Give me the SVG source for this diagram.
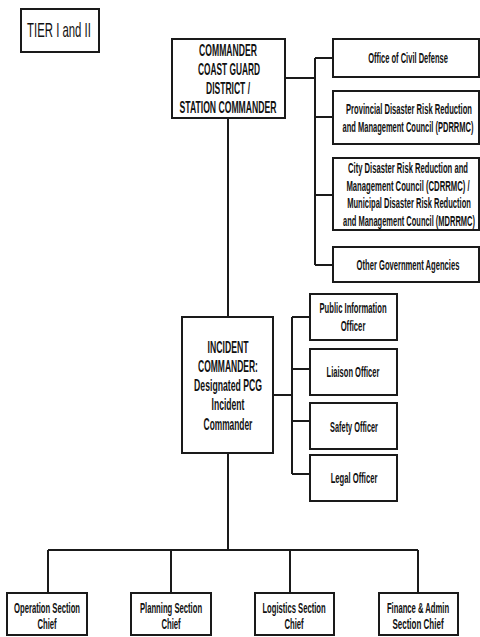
<svg xmlns="http://www.w3.org/2000/svg" width="480" height="637" viewBox="0 0 480 637">
<style>
.box{fill:#fff;stroke:#1a1a1a;stroke-width:2}
.ln{fill:none;stroke:#1a1a1a;stroke-width:2}
text{font-family:"Liberation Sans",Arial,sans-serif;fill:#111;text-anchor:middle}
.b{font-weight:bold;font-size:16.5px}
.s{font-weight:bold;font-size:14px}
.t{font-size:20px}
</style>
<rect width="480" height="637" fill="#fff"/>
<g id="connectors">
<path class="ln" d="M285 78H315M315 58V265M315 58H333M315 117H333M315 195H333M315 265H333"/>
<path class="ln" d="M228 118V317M228 453V550M48 550H418M48 550V593M171 550V593M290 550V593M418 550V593"/>
<path class="ln" d="M273 395H292M292 317V474M292 317H310M292 369H310M292 421H310M292 474H310"/>
</g>
<g id="tier">
<rect class="box" x="21" y="9" width="78" height="43"/>
<text class="t" transform="matrix(0.57 0 0 1 59 37)" textLength="112" lengthAdjust="spacingAndGlyphs">TIER I and II</text>
</g>
<g id="commander">
<rect class="box" x="172" y="39" width="113" height="79"/>
<text class="b" transform="matrix(0.53 0 0 1 228 56)" textLength="109" lengthAdjust="spacingAndGlyphs">COMMANDER</text>
<text class="b" transform="matrix(0.53 0 0 1 229 75)" textLength="117" lengthAdjust="spacingAndGlyphs">COAST GUARD</text>
<text class="b" transform="matrix(0.53 0 0 1 228 94)" textLength="83" lengthAdjust="spacingAndGlyphs">DISTRICT /</text>
<text class="b" transform="matrix(0.53 0 0 1 228 113)" textLength="183" lengthAdjust="spacingAndGlyphs">STATION COMMANDER</text>
</g>
<g id="ocd">
<rect class="box" x="333" y="39" width="146" height="38"/>
<text class="s" transform="matrix(0.55 0 0 1 408 63)" textLength="145" lengthAdjust="spacingAndGlyphs">Office of Civil Defense</text>
</g>
<g id="pdrrmc">
<rect class="box" x="333" y="91" width="146" height="53"/>
<text class="s" transform="matrix(0.55 0 0 1 409 114)" textLength="229" lengthAdjust="spacingAndGlyphs">Provincial Disaster  Risk  Reduction</text>
<text class="s" transform="matrix(0.55 0 0 1 408 132)" textLength="238" lengthAdjust="spacingAndGlyphs">and Management Council (PDRRMC)</text>
</g>
<g id="cdrrmc">
<rect class="box" x="333" y="158" width="146" height="72"/>
<text class="s" transform="matrix(0.55 0 0 1 408 173)" textLength="218" lengthAdjust="spacingAndGlyphs">City Disaster  Risk Reduction and</text>
<text class="s" transform="matrix(0.55 0 0 1 408 191)" textLength="224" lengthAdjust="spacingAndGlyphs">Management Council (CDRRMC)  /</text>
<text class="s" transform="matrix(0.55 0 0 1 409 208)" textLength="225" lengthAdjust="spacingAndGlyphs">Municipal Disaster  Risk  Reduction</text>
<text class="s" transform="matrix(0.55 0 0 1 409 226)" textLength="240" lengthAdjust="spacingAndGlyphs">and Management Council (MDRRMC)</text>
</g>
<g id="oga">
<rect class="box" x="333" y="247" width="146" height="35"/>
<text class="s" transform="matrix(0.55 0 0 1 408 270)" textLength="187" lengthAdjust="spacingAndGlyphs">Other Government Agencies</text>
</g>
<g id="incident">
<rect class="box" x="182" y="317" width="91" height="136"/>
<text class="b" transform="matrix(0.53 0 0 1 228 353)" textLength="77" lengthAdjust="spacingAndGlyphs">INCIDENT</text>
<text class="b" transform="matrix(0.53 0 0 1 228 372)" textLength="113" lengthAdjust="spacingAndGlyphs">COMMANDER:</text>
<text class="b" transform="matrix(0.53 0 0 1 228 391)" textLength="128" lengthAdjust="spacingAndGlyphs">Designated PCG</text>
<text class="b" transform="matrix(0.53 0 0 1 228 410)" textLength="62" lengthAdjust="spacingAndGlyphs">Incident</text>
<text class="b" transform="matrix(0.53 0 0 1 228 430)" textLength="92" lengthAdjust="spacingAndGlyphs">Commander</text>
</g>
<g id="pio">
<rect class="box" x="310" y="294" width="87" height="46"/>
<text class="s" transform="matrix(0.55 0 0 1 353 313)" textLength="122" lengthAdjust="spacingAndGlyphs">Public Information</text>
<text class="s" transform="matrix(0.55 0 0 1 353 331)" textLength="45" lengthAdjust="spacingAndGlyphs">Officer</text>
</g>
<g id="liaison">
<rect class="box" x="310" y="349" width="87" height="46"/>
<text class="s" transform="matrix(0.55 0 0 1 353 377)" textLength="96" lengthAdjust="spacingAndGlyphs">Liaison Officer</text>
</g>
<g id="safety">
<rect class="box" x="310" y="403" width="87" height="46"/>
<text class="s" transform="matrix(0.55 0 0 1 354 432)" textLength="87" lengthAdjust="spacingAndGlyphs">Safety Officer</text>
</g>
<g id="legal">
<rect class="box" x="310" y="455" width="87" height="46"/>
<text class="s" transform="matrix(0.55 0 0 1 354 483)" textLength="85" lengthAdjust="spacingAndGlyphs">Legal Officer</text>
</g>
<g id="operation">
<rect class="box" x="7" y="593" width="80" height="42"/>
<text class="s" transform="matrix(0.55 0 0 1 47 613)" textLength="120" lengthAdjust="spacingAndGlyphs">Operation Section</text>
<text class="s" transform="matrix(0.55 0 0 1 47 629)" textLength="35" lengthAdjust="spacingAndGlyphs">Chief</text>
</g>
<g id="planning">
<rect class="box" x="131" y="593" width="80" height="42"/>
<text class="s" transform="matrix(0.55 0 0 1 171 613)" textLength="113" lengthAdjust="spacingAndGlyphs">Planning Section</text>
<text class="s" transform="matrix(0.55 0 0 1 171 629)" textLength="35" lengthAdjust="spacingAndGlyphs">Chief</text>
</g>
<g id="logistics">
<rect class="box" x="255" y="593" width="79" height="42"/>
<text class="s" transform="matrix(0.55 0 0 1 294 613)" textLength="115" lengthAdjust="spacingAndGlyphs">Logistics  Section</text>
<text class="s" transform="matrix(0.55 0 0 1 294 629)" textLength="35" lengthAdjust="spacingAndGlyphs">Chief</text>
</g>
<g id="finance">
<rect class="box" x="379" y="593" width="79" height="42"/>
<text class="s" transform="matrix(0.55 0 0 1 418 613)" textLength="113" lengthAdjust="spacingAndGlyphs">Finance &amp; Admin</text>
<text class="s" transform="matrix(0.55 0 0 1 418 629)" textLength="93" lengthAdjust="spacingAndGlyphs">Section  Chief</text>
</g>
</svg>
